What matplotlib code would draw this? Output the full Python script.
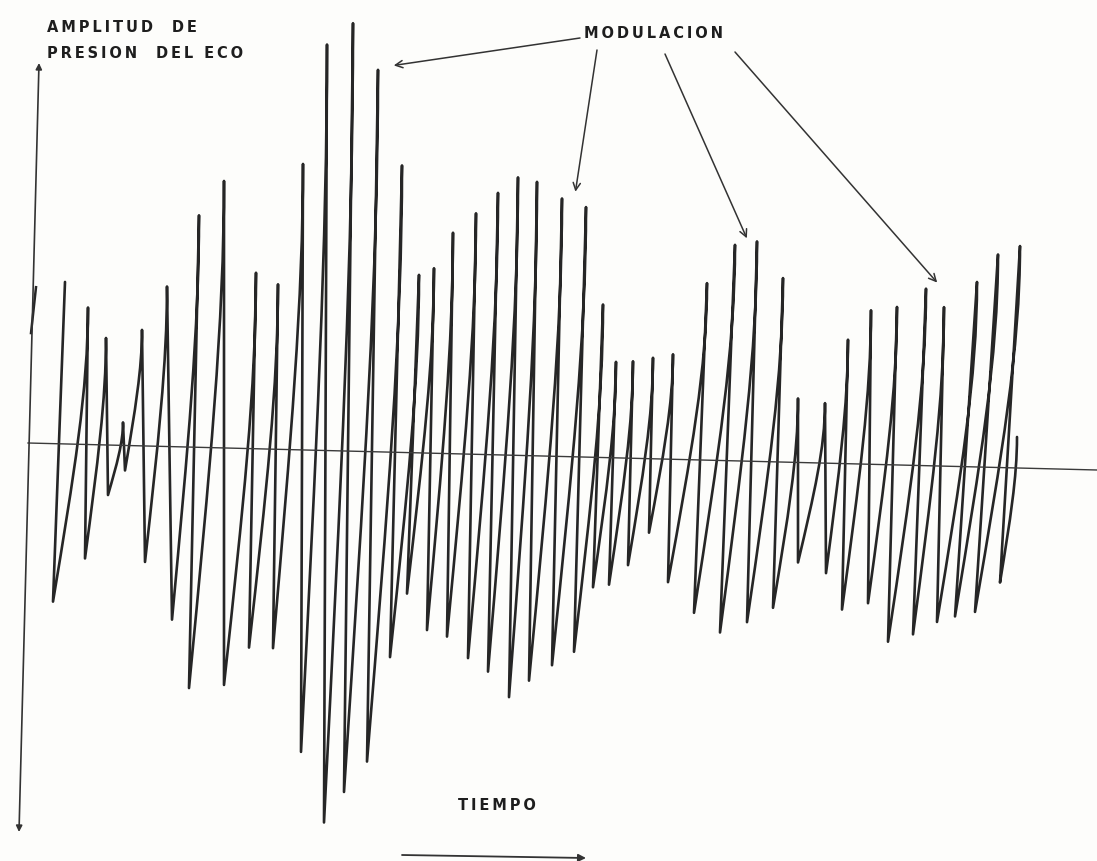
import numpy as np
import matplotlib.pyplot as plt
from matplotlib.path import Path
from matplotlib.patches import PathPatch

# ==========================
# Datos
# ==========================

# tiempo (unidades del dibujo) de cada vertice de la traza, pico/valle alternados
tiempo = [65, 53, 88, 85, 106, 108, 123, 125, 142, 145, 167, 172,
          199, 189, 224, 224, 256, 249, 278, 273, 303, 301,
          327, 324, 353, 344, 378, 367, 402, 390, 419, 407,
          434, 427, 453, 447, 476, 468, 498, 488, 518, 509,
          537, 529, 562, 552, 586, 574, 603, 593, 616, 609,
          633, 628, 653, 649, 673, 668, 707, 694, 735, 720,
          757, 747, 783, 773, 798, 798, 825, 826, 848, 842,
          871, 868, 897, 888, 926, 913, 944, 937, 977, 955,
          998, 975, 1020, 1000, 1017]

# amplitud de presion del eco en cada vertice (respecto a la linea base)
amplitud = [162, -158, 137, -114, 107, -50, 23, -25, 116, -116, 160, -173,
            232, -241, 267, -237, 176, -199, 165, -199, 286, -302,
            406, -372, 428, -341, 382, -310, 287, -205, 178, -141,
            185, -177, 221, -183, 241, -204, 262, -217, 278, -242,
            274, -225, 258, -209, 250, -195, 153, -130, 96, -127,
            97, -107, 101, -74, 105, -123, 177, -153, 216, -172,
            220, -161, 184, -146, 64, -100, 60, -110, 124, -146,
            154, -139, 158, -177, 177, -169, 159, -156, 185, -150,
            213, -145, 222, -115, 31]

# trazo inicial junto al eje
tiempo_inicio = [31, 36]
amplitud_inicio = [110, 156]

# picos señalados como "modulacion" (indices dentro de la traza)
picos_modulacion = [26, 44, 60, 76]

# ==========================
# Dibujo
# ==========================

W, H = 1097, 861
fig = plt.figure(figsize=(W / 100, H / 100), dpi=100)
fig.patch.set_facecolor('#fdfdfb')
ax = fig.add_axes([0, 0, 1, 1])
ax.set_xlim(0, W)
ax.set_ylim(H, 0)
ax.axis('off')

# la hoja escaneada esta algo inclinada: linea base de 443 a 470 px
def base(t):
    return 443 + (470 - 443) * (np.asarray(t, dtype=float) - 28) / (W - 28)

t = np.array(tiempo, dtype=float)
a = np.array(amplitud, dtype=float)
y = base(t) - a
color = '#262626'

ax.plot([28, W], base([28, W]), color='#3a3a3a', lw=1.0)

# bajadas rectas; subidas casi rectas que se doblan cerca del pico
verts = [(t[0], y[0])]
codes = [Path.MOVETO]
for i in range(1, len(t)):
    x0, y0 = t[i - 1], y[i - 1]
    x1, y1 = t[i], y[i]
    if a[i] > a[i - 1]:
        dy = y0 - y1
        c2 = (x1, y1 + 0.28 * dy)
        c1 = (x0 + 0.6 * (c2[0] - x0), y0 + 0.6 * (c2[1] - y0))
        verts += [c1, c2, (x1, y1)]
        codes += [Path.CURVE4] * 3
    else:
        verts.append((x1, y1))
        codes.append(Path.LINETO)
ax.add_patch(PathPatch(Path(verts, codes), fill=False, edgecolor=color,
                       lw=1.9, joinstyle='round', capstyle='round'))

ti = np.array(tiempo_inicio, dtype=float)
ax.plot(ti, base(ti) - np.array(amplitud_inicio), color=color, lw=1.8)

# eje vertical con doble flecha
ax.annotate('', xy=(39, 63), xytext=(19, 832),
            arrowprops=dict(arrowstyle='<|-|>', lw=1.2, color='#333333',
                            mutation_scale=9, shrinkA=0, shrinkB=0))
# flecha del tiempo
ax.annotate('', xy=(586, 858), xytext=(402, 855),
            arrowprops=dict(arrowstyle='-|>', lw=1.3, color='#333333',
                            mutation_scale=11, shrinkA=0, shrinkB=0))

def espaciado(s):
    return '\u2009'.join(s)

txt = dict(fontsize=10.5, fontweight='bold', color='#1e1e1e', family='DejaVu Sans')
ax.text(47, 28, espaciado('AMPLITUD  DE'), ha='left', va='center', **txt)
ax.text(47, 53, espaciado('PRESION  DEL ECO'), ha='left', va='center', **txt)
ax.text(497, 806, espaciado('TIEMPO'), ha='center', va='center', **txt)
ax.text(654, 34, espaciado('MODULACION'), ha='center', va='center', **txt)

# flechas de "modulacion"
origenes = [(580, 38), (597, 50), (665, 54), (735, 52)]
for (x0, y0), i in zip(origenes, picos_modulacion):
    xp = t[i]
    yp = base(xp) - a[i]
    ax.annotate('', xy=(xp + 13, yp - 4), xytext=(x0, y0),
                arrowprops=dict(arrowstyle='->', lw=1.1, color='#333333',
                                mutation_scale=13, shrinkA=0, shrinkB=2))

fig.savefig('out.png', dpi=100, facecolor=fig.get_facecolor())
